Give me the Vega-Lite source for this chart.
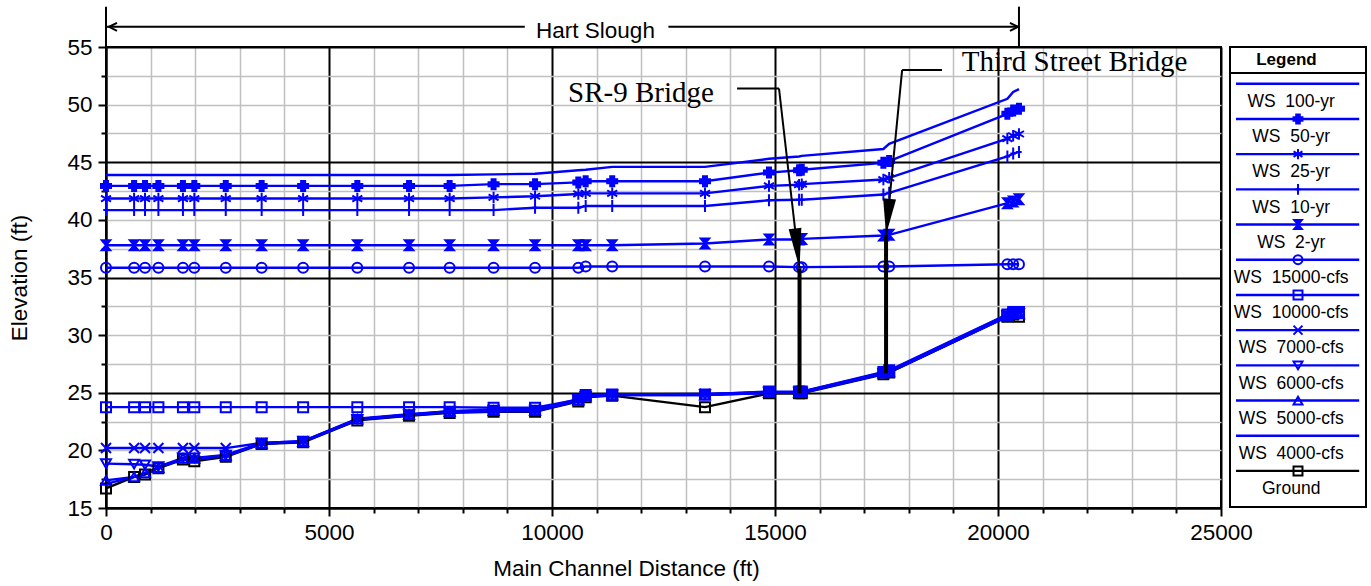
{
"$schema": "https://vega.github.io/schema/vega-lite/v6.json",
"padding": {"left": 7, "top": 4, "right": 2, "bottom": 2},
"background": "white",
"config": {
 "font": "Liberation Sans",
 "view": {"stroke": "#000000", "strokeWidth": 2},
 "axis": {"domainColor": "#000000", "domainWidth": 2, "tickColor": "#000000", "tickWidth": 2, "labelColor": "#000000", "titleColor": "#000000", "labelFont": "Liberation Sans", "titleFont": "Liberation Sans", "labelFontSize": 22.5, "titleFontSize": 22.5, "titleFontWeight": "normal", "labelOverlap": false}
},
"datasets": {
 "profiles": [
{"series":"Ground","dist":0,"elev":16.7},{"series":"Ground","dist":630,"elev":17.7},{"series":"Ground","dist":875,"elev":17.9},{"series":"Ground","dist":1175,"elev":18.45},{"series":"Ground","dist":1725,"elev":19.2},{"series":"Ground","dist":1980,"elev":19.05},{"series":"Ground","dist":2685,"elev":19.45},{"series":"Ground","dist":3490,"elev":20.55},{"series":"Ground","dist":4420,"elev":20.7},{"series":"Ground","dist":5635,"elev":22.6},{"series":"Ground","dist":6795,"elev":23.0},{"series":"Ground","dist":7705,"elev":23.25},{"series":"Ground","dist":8690,"elev":23.35},{"series":"Ground","dist":9620,"elev":23.35},{"series":"Ground","dist":10590,"elev":24.25},{"series":"Ground","dist":10755,"elev":24.6},{"series":"Ground","dist":11350,"elev":24.75},{"series":"Ground","dist":13430,"elev":23.75},{"series":"Ground","dist":14865,"elev":24.95},{"series":"Ground","dist":15540,"elev":24.95},{"series":"Ground","dist":15600,"elev":24.95},{"series":"Ground","dist":17430,"elev":26.6},{"series":"Ground","dist":17560,"elev":26.75},{"series":"Ground","dist":20210,"elev":31.6},{"series":"Ground","dist":20340,"elev":31.8},{"series":"Ground","dist":20470,"elev":31.6},
{"series":"WS\u00a0 4000-cfs","dist":0,"elev":17.1},{"series":"WS\u00a0 4000-cfs","dist":630,"elev":17.7},{"series":"WS\u00a0 4000-cfs","dist":875,"elev":18.0},{"series":"WS\u00a0 4000-cfs","dist":1175,"elev":18.5},{"series":"WS\u00a0 4000-cfs","dist":1725,"elev":19.25},{"series":"WS\u00a0 4000-cfs","dist":1980,"elev":19.25},{"series":"WS\u00a0 4000-cfs","dist":2685,"elev":19.5},{"series":"WS\u00a0 4000-cfs","dist":3490,"elev":20.6},{"series":"WS\u00a0 4000-cfs","dist":4420,"elev":20.75},{"series":"WS\u00a0 4000-cfs","dist":5635,"elev":22.65},{"series":"WS\u00a0 4000-cfs","dist":6795,"elev":23.05},{"series":"WS\u00a0 4000-cfs","dist":7705,"elev":23.3},{"series":"WS\u00a0 4000-cfs","dist":8690,"elev":23.4},{"series":"WS\u00a0 4000-cfs","dist":9620,"elev":23.4},{"series":"WS\u00a0 4000-cfs","dist":10590,"elev":24.3},{"series":"WS\u00a0 4000-cfs","dist":10755,"elev":24.65},{"series":"WS\u00a0 4000-cfs","dist":11350,"elev":24.8},{"series":"WS\u00a0 4000-cfs","dist":13430,"elev":24.8},{"series":"WS\u00a0 4000-cfs","dist":14865,"elev":25.0},{"series":"WS\u00a0 4000-cfs","dist":15540,"elev":25.0},{"series":"WS\u00a0 4000-cfs","dist":15600,"elev":25.0},{"series":"WS\u00a0 4000-cfs","dist":17430,"elev":26.65},{"series":"WS\u00a0 4000-cfs","dist":17560,"elev":26.8},{"series":"WS\u00a0 4000-cfs","dist":20210,"elev":31.6},{"series":"WS\u00a0 4000-cfs","dist":20340,"elev":31.8},{"series":"WS\u00a0 4000-cfs","dist":20470,"elev":31.8},
{"series":"WS\u00a0 5000-cfs","dist":0,"elev":17.4},{"series":"WS\u00a0 5000-cfs","dist":630,"elev":17.7},{"series":"WS\u00a0 5000-cfs","dist":875,"elev":18.05},{"series":"WS\u00a0 5000-cfs","dist":1175,"elev":18.5},{"series":"WS\u00a0 5000-cfs","dist":1725,"elev":19.3},{"series":"WS\u00a0 5000-cfs","dist":1980,"elev":19.3},{"series":"WS\u00a0 5000-cfs","dist":2685,"elev":19.55},{"series":"WS\u00a0 5000-cfs","dist":3490,"elev":20.6},{"series":"WS\u00a0 5000-cfs","dist":4420,"elev":20.75},{"series":"WS\u00a0 5000-cfs","dist":5635,"elev":22.7},{"series":"WS\u00a0 5000-cfs","dist":6795,"elev":23.1},{"series":"WS\u00a0 5000-cfs","dist":7705,"elev":23.35},{"series":"WS\u00a0 5000-cfs","dist":8690,"elev":23.45},{"series":"WS\u00a0 5000-cfs","dist":9620,"elev":23.45},{"series":"WS\u00a0 5000-cfs","dist":10590,"elev":24.35},{"series":"WS\u00a0 5000-cfs","dist":10755,"elev":24.7},{"series":"WS\u00a0 5000-cfs","dist":11350,"elev":24.8},{"series":"WS\u00a0 5000-cfs","dist":13430,"elev":24.8},{"series":"WS\u00a0 5000-cfs","dist":14865,"elev":25.0},{"series":"WS\u00a0 5000-cfs","dist":15540,"elev":25.0},{"series":"WS\u00a0 5000-cfs","dist":15600,"elev":25.0},{"series":"WS\u00a0 5000-cfs","dist":17430,"elev":26.7},{"series":"WS\u00a0 5000-cfs","dist":17560,"elev":26.8},{"series":"WS\u00a0 5000-cfs","dist":20210,"elev":31.65},{"series":"WS\u00a0 5000-cfs","dist":20340,"elev":31.85},{"series":"WS\u00a0 5000-cfs","dist":20470,"elev":31.85},
{"series":"WS\u00a0 6000-cfs","dist":0,"elev":18.85},{"series":"WS\u00a0 6000-cfs","dist":630,"elev":18.8},{"series":"WS\u00a0 6000-cfs","dist":875,"elev":18.75},{"series":"WS\u00a0 6000-cfs","dist":1175,"elev":18.6},{"series":"WS\u00a0 6000-cfs","dist":1725,"elev":19.35},{"series":"WS\u00a0 6000-cfs","dist":1980,"elev":19.35},{"series":"WS\u00a0 6000-cfs","dist":2685,"elev":19.6},{"series":"WS\u00a0 6000-cfs","dist":3490,"elev":20.65},{"series":"WS\u00a0 6000-cfs","dist":4420,"elev":20.8},{"series":"WS\u00a0 6000-cfs","dist":5635,"elev":22.7},{"series":"WS\u00a0 6000-cfs","dist":6795,"elev":23.1},{"series":"WS\u00a0 6000-cfs","dist":7705,"elev":23.4},{"series":"WS\u00a0 6000-cfs","dist":8690,"elev":23.5},{"series":"WS\u00a0 6000-cfs","dist":9620,"elev":23.5},{"series":"WS\u00a0 6000-cfs","dist":10590,"elev":24.4},{"series":"WS\u00a0 6000-cfs","dist":10755,"elev":24.7},{"series":"WS\u00a0 6000-cfs","dist":11350,"elev":24.85},{"series":"WS\u00a0 6000-cfs","dist":13430,"elev":24.85},{"series":"WS\u00a0 6000-cfs","dist":14865,"elev":25.05},{"series":"WS\u00a0 6000-cfs","dist":15540,"elev":25.05},{"series":"WS\u00a0 6000-cfs","dist":15600,"elev":25.05},{"series":"WS\u00a0 6000-cfs","dist":17430,"elev":26.7},{"series":"WS\u00a0 6000-cfs","dist":17560,"elev":26.85},{"series":"WS\u00a0 6000-cfs","dist":20210,"elev":31.7},{"series":"WS\u00a0 6000-cfs","dist":20340,"elev":31.9},{"series":"WS\u00a0 6000-cfs","dist":20470,"elev":31.9},
{"series":"WS\u00a0 7000-cfs","dist":0,"elev":20.2},{"series":"WS\u00a0 7000-cfs","dist":630,"elev":20.2},{"series":"WS\u00a0 7000-cfs","dist":875,"elev":20.2},{"series":"WS\u00a0 7000-cfs","dist":1175,"elev":20.2},{"series":"WS\u00a0 7000-cfs","dist":1725,"elev":20.2},{"series":"WS\u00a0 7000-cfs","dist":1980,"elev":20.2},{"series":"WS\u00a0 7000-cfs","dist":2685,"elev":20.2},{"series":"WS\u00a0 7000-cfs","dist":3490,"elev":20.65},{"series":"WS\u00a0 7000-cfs","dist":4420,"elev":20.8},{"series":"WS\u00a0 7000-cfs","dist":5635,"elev":22.75},{"series":"WS\u00a0 7000-cfs","dist":6795,"elev":23.15},{"series":"WS\u00a0 7000-cfs","dist":7705,"elev":23.4},{"series":"WS\u00a0 7000-cfs","dist":8690,"elev":23.5},{"series":"WS\u00a0 7000-cfs","dist":9620,"elev":23.55},{"series":"WS\u00a0 7000-cfs","dist":10590,"elev":24.45},{"series":"WS\u00a0 7000-cfs","dist":10755,"elev":24.75},{"series":"WS\u00a0 7000-cfs","dist":11350,"elev":24.85},{"series":"WS\u00a0 7000-cfs","dist":13430,"elev":24.9},{"series":"WS\u00a0 7000-cfs","dist":14865,"elev":25.05},{"series":"WS\u00a0 7000-cfs","dist":15540,"elev":25.05},{"series":"WS\u00a0 7000-cfs","dist":15600,"elev":25.1},{"series":"WS\u00a0 7000-cfs","dist":17430,"elev":26.75},{"series":"WS\u00a0 7000-cfs","dist":17560,"elev":26.9},{"series":"WS\u00a0 7000-cfs","dist":20210,"elev":31.75},{"series":"WS\u00a0 7000-cfs","dist":20340,"elev":31.95},{"series":"WS\u00a0 7000-cfs","dist":20470,"elev":31.95},
{"series":"WS\u00a0 10000-cfs","dist":0,"elev":23.75},{"series":"WS\u00a0 10000-cfs","dist":630,"elev":23.75},{"series":"WS\u00a0 10000-cfs","dist":875,"elev":23.75},{"series":"WS\u00a0 10000-cfs","dist":1175,"elev":23.75},{"series":"WS\u00a0 10000-cfs","dist":1725,"elev":23.75},{"series":"WS\u00a0 10000-cfs","dist":1980,"elev":23.75},{"series":"WS\u00a0 10000-cfs","dist":2685,"elev":23.75},{"series":"WS\u00a0 10000-cfs","dist":3490,"elev":23.75},{"series":"WS\u00a0 10000-cfs","dist":4420,"elev":23.75},{"series":"WS\u00a0 10000-cfs","dist":5635,"elev":23.75},{"series":"WS\u00a0 10000-cfs","dist":6795,"elev":23.75},{"series":"WS\u00a0 10000-cfs","dist":7705,"elev":23.75},{"series":"WS\u00a0 10000-cfs","dist":8690,"elev":23.7},{"series":"WS\u00a0 10000-cfs","dist":9620,"elev":23.7},{"series":"WS\u00a0 10000-cfs","dist":10590,"elev":24.4},{"series":"WS\u00a0 10000-cfs","dist":10755,"elev":24.8},{"series":"WS\u00a0 10000-cfs","dist":11350,"elev":24.85},{"series":"WS\u00a0 10000-cfs","dist":13430,"elev":24.85},{"series":"WS\u00a0 10000-cfs","dist":14865,"elev":25.1},{"series":"WS\u00a0 10000-cfs","dist":15540,"elev":25.1},{"series":"WS\u00a0 10000-cfs","dist":15600,"elev":25.1},{"series":"WS\u00a0 10000-cfs","dist":17430,"elev":26.8},{"series":"WS\u00a0 10000-cfs","dist":17560,"elev":26.95},{"series":"WS\u00a0 10000-cfs","dist":20210,"elev":31.8},{"series":"WS\u00a0 10000-cfs","dist":20340,"elev":32.0},{"series":"WS\u00a0 10000-cfs","dist":20470,"elev":32.0},
{"series":"WS\u00a0 15000-cfs","dist":0,"elev":35.85},{"series":"WS\u00a0 15000-cfs","dist":630,"elev":35.85},{"series":"WS\u00a0 15000-cfs","dist":875,"elev":35.85},{"series":"WS\u00a0 15000-cfs","dist":1175,"elev":35.85},{"series":"WS\u00a0 15000-cfs","dist":1725,"elev":35.85},{"series":"WS\u00a0 15000-cfs","dist":1980,"elev":35.85},{"series":"WS\u00a0 15000-cfs","dist":2685,"elev":35.85},{"series":"WS\u00a0 15000-cfs","dist":3490,"elev":35.85},{"series":"WS\u00a0 15000-cfs","dist":4420,"elev":35.85},{"series":"WS\u00a0 15000-cfs","dist":5635,"elev":35.85},{"series":"WS\u00a0 15000-cfs","dist":6795,"elev":35.85},{"series":"WS\u00a0 15000-cfs","dist":7705,"elev":35.85},{"series":"WS\u00a0 15000-cfs","dist":8690,"elev":35.85},{"series":"WS\u00a0 15000-cfs","dist":9620,"elev":35.85},{"series":"WS\u00a0 15000-cfs","dist":10590,"elev":35.85},{"series":"WS\u00a0 15000-cfs","dist":10755,"elev":35.95},{"series":"WS\u00a0 15000-cfs","dist":11350,"elev":35.95},{"series":"WS\u00a0 15000-cfs","dist":13430,"elev":35.95},{"series":"WS\u00a0 15000-cfs","dist":14865,"elev":35.95},{"series":"WS\u00a0 15000-cfs","dist":15540,"elev":35.9},{"series":"WS\u00a0 15000-cfs","dist":15600,"elev":35.9},{"series":"WS\u00a0 15000-cfs","dist":17430,"elev":35.95},{"series":"WS\u00a0 15000-cfs","dist":17560,"elev":35.95},{"series":"WS\u00a0 15000-cfs","dist":20210,"elev":36.15},{"series":"WS\u00a0 15000-cfs","dist":20340,"elev":36.15},{"series":"WS\u00a0 15000-cfs","dist":20470,"elev":36.15},
{"series":"WS\u00a0 2-yr","dist":0,"elev":37.8},{"series":"WS\u00a0 2-yr","dist":630,"elev":37.8},{"series":"WS\u00a0 2-yr","dist":875,"elev":37.8},{"series":"WS\u00a0 2-yr","dist":1175,"elev":37.8},{"series":"WS\u00a0 2-yr","dist":1725,"elev":37.8},{"series":"WS\u00a0 2-yr","dist":1980,"elev":37.8},{"series":"WS\u00a0 2-yr","dist":2685,"elev":37.8},{"series":"WS\u00a0 2-yr","dist":3490,"elev":37.8},{"series":"WS\u00a0 2-yr","dist":4420,"elev":37.8},{"series":"WS\u00a0 2-yr","dist":5635,"elev":37.8},{"series":"WS\u00a0 2-yr","dist":6795,"elev":37.8},{"series":"WS\u00a0 2-yr","dist":7705,"elev":37.8},{"series":"WS\u00a0 2-yr","dist":8690,"elev":37.8},{"series":"WS\u00a0 2-yr","dist":9620,"elev":37.8},{"series":"WS\u00a0 2-yr","dist":10590,"elev":37.8},{"series":"WS\u00a0 2-yr","dist":10755,"elev":37.8},{"series":"WS\u00a0 2-yr","dist":11350,"elev":37.8},{"series":"WS\u00a0 2-yr","dist":13430,"elev":37.95},{"series":"WS\u00a0 2-yr","dist":14865,"elev":38.3},{"series":"WS\u00a0 2-yr","dist":15540,"elev":38.3},{"series":"WS\u00a0 2-yr","dist":15600,"elev":38.35},{"series":"WS\u00a0 2-yr","dist":17430,"elev":38.65},{"series":"WS\u00a0 2-yr","dist":17560,"elev":38.7},{"series":"WS\u00a0 2-yr","dist":20210,"elev":41.45},{"series":"WS\u00a0 2-yr","dist":20340,"elev":41.6},{"series":"WS\u00a0 2-yr","dist":20470,"elev":41.8},
{"series":"WS\u00a0 10-yr","dist":0,"elev":40.85},{"series":"WS\u00a0 10-yr","dist":630,"elev":40.85},{"series":"WS\u00a0 10-yr","dist":875,"elev":40.85},{"series":"WS\u00a0 10-yr","dist":1175,"elev":40.85},{"series":"WS\u00a0 10-yr","dist":1725,"elev":40.85},{"series":"WS\u00a0 10-yr","dist":1980,"elev":40.85},{"series":"WS\u00a0 10-yr","dist":2685,"elev":40.85},{"series":"WS\u00a0 10-yr","dist":3490,"elev":40.85},{"series":"WS\u00a0 10-yr","dist":4420,"elev":40.85},{"series":"WS\u00a0 10-yr","dist":5635,"elev":40.85},{"series":"WS\u00a0 10-yr","dist":6795,"elev":40.85},{"series":"WS\u00a0 10-yr","dist":7705,"elev":40.85},{"series":"WS\u00a0 10-yr","dist":8690,"elev":40.85},{"series":"WS\u00a0 10-yr","dist":9620,"elev":41.05},{"series":"WS\u00a0 10-yr","dist":10590,"elev":41.05},{"series":"WS\u00a0 10-yr","dist":10755,"elev":41.2},{"series":"WS\u00a0 10-yr","dist":11350,"elev":41.2},{"series":"WS\u00a0 10-yr","dist":13430,"elev":41.2},{"series":"WS\u00a0 10-yr","dist":14865,"elev":41.7},{"series":"WS\u00a0 10-yr","dist":15540,"elev":41.75},{"series":"WS\u00a0 10-yr","dist":15600,"elev":41.75},{"series":"WS\u00a0 10-yr","dist":17430,"elev":42.2},{"series":"WS\u00a0 10-yr","dist":17560,"elev":42.35},{"series":"WS\u00a0 10-yr","dist":20210,"elev":45.5},{"series":"WS\u00a0 10-yr","dist":20340,"elev":45.75},{"series":"WS\u00a0 10-yr","dist":20470,"elev":45.9},
{"series":"WS\u00a0 25-yr","dist":0,"elev":41.85},{"series":"WS\u00a0 25-yr","dist":630,"elev":41.85},{"series":"WS\u00a0 25-yr","dist":875,"elev":41.85},{"series":"WS\u00a0 25-yr","dist":1175,"elev":41.85},{"series":"WS\u00a0 25-yr","dist":1725,"elev":41.85},{"series":"WS\u00a0 25-yr","dist":1980,"elev":41.85},{"series":"WS\u00a0 25-yr","dist":2685,"elev":41.85},{"series":"WS\u00a0 25-yr","dist":3490,"elev":41.85},{"series":"WS\u00a0 25-yr","dist":4420,"elev":41.85},{"series":"WS\u00a0 25-yr","dist":5635,"elev":41.85},{"series":"WS\u00a0 25-yr","dist":6795,"elev":41.85},{"series":"WS\u00a0 25-yr","dist":7705,"elev":41.85},{"series":"WS\u00a0 25-yr","dist":8690,"elev":41.95},{"series":"WS\u00a0 25-yr","dist":9620,"elev":42.05},{"series":"WS\u00a0 25-yr","dist":10590,"elev":42.25},{"series":"WS\u00a0 25-yr","dist":10755,"elev":42.3},{"series":"WS\u00a0 25-yr","dist":11350,"elev":42.3},{"series":"WS\u00a0 25-yr","dist":13430,"elev":42.3},{"series":"WS\u00a0 25-yr","dist":14865,"elev":42.95},{"series":"WS\u00a0 25-yr","dist":15540,"elev":43.05},{"series":"WS\u00a0 25-yr","dist":15600,"elev":43.1},{"series":"WS\u00a0 25-yr","dist":17430,"elev":43.5},{"series":"WS\u00a0 25-yr","dist":17560,"elev":43.65},{"series":"WS\u00a0 25-yr","dist":20210,"elev":47.05},{"series":"WS\u00a0 25-yr","dist":20340,"elev":47.3},{"series":"WS\u00a0 25-yr","dist":20470,"elev":47.45},
{"series":"WS\u00a0 50-yr","dist":0,"elev":42.95},{"series":"WS\u00a0 50-yr","dist":630,"elev":42.95},{"series":"WS\u00a0 50-yr","dist":875,"elev":42.95},{"series":"WS\u00a0 50-yr","dist":1175,"elev":42.95},{"series":"WS\u00a0 50-yr","dist":1725,"elev":42.95},{"series":"WS\u00a0 50-yr","dist":1980,"elev":42.95},{"series":"WS\u00a0 50-yr","dist":2685,"elev":42.95},{"series":"WS\u00a0 50-yr","dist":3490,"elev":42.95},{"series":"WS\u00a0 50-yr","dist":4420,"elev":42.95},{"series":"WS\u00a0 50-yr","dist":5635,"elev":42.95},{"series":"WS\u00a0 50-yr","dist":6795,"elev":42.95},{"series":"WS\u00a0 50-yr","dist":7705,"elev":42.95},{"series":"WS\u00a0 50-yr","dist":8690,"elev":43.1},{"series":"WS\u00a0 50-yr","dist":9620,"elev":43.1},{"series":"WS\u00a0 50-yr","dist":10590,"elev":43.25},{"series":"WS\u00a0 50-yr","dist":10755,"elev":43.35},{"series":"WS\u00a0 50-yr","dist":11350,"elev":43.35},{"series":"WS\u00a0 50-yr","dist":13430,"elev":43.35},{"series":"WS\u00a0 50-yr","dist":14865,"elev":44.1},{"series":"WS\u00a0 50-yr","dist":15540,"elev":44.3},{"series":"WS\u00a0 50-yr","dist":15600,"elev":44.35},{"series":"WS\u00a0 50-yr","dist":17430,"elev":44.95},{"series":"WS\u00a0 50-yr","dist":17560,"elev":45.1},{"series":"WS\u00a0 50-yr","dist":20210,"elev":49.2},{"series":"WS\u00a0 50-yr","dist":20340,"elev":49.5},{"series":"WS\u00a0 50-yr","dist":20470,"elev":49.65},
{"series":"WS\u00a0 100-yr","dist":0,"elev":43.9},{"series":"WS\u00a0 100-yr","dist":630,"elev":43.9},{"series":"WS\u00a0 100-yr","dist":875,"elev":43.9},{"series":"WS\u00a0 100-yr","dist":1175,"elev":43.9},{"series":"WS\u00a0 100-yr","dist":1725,"elev":43.9},{"series":"WS\u00a0 100-yr","dist":1980,"elev":43.9},{"series":"WS\u00a0 100-yr","dist":2685,"elev":43.9},{"series":"WS\u00a0 100-yr","dist":3490,"elev":43.9},{"series":"WS\u00a0 100-yr","dist":4420,"elev":43.9},{"series":"WS\u00a0 100-yr","dist":5635,"elev":43.9},{"series":"WS\u00a0 100-yr","dist":6795,"elev":43.9},{"series":"WS\u00a0 100-yr","dist":7705,"elev":43.9},{"series":"WS\u00a0 100-yr","dist":8690,"elev":43.95},{"series":"WS\u00a0 100-yr","dist":9620,"elev":44.0},{"series":"WS\u00a0 100-yr","dist":10590,"elev":44.3},{"series":"WS\u00a0 100-yr","dist":10755,"elev":44.35},{"series":"WS\u00a0 100-yr","dist":11350,"elev":44.6},{"series":"WS\u00a0 100-yr","dist":13430,"elev":44.6},{"series":"WS\u00a0 100-yr","dist":14865,"elev":45.3},{"series":"WS\u00a0 100-yr","dist":15540,"elev":45.5},{"series":"WS\u00a0 100-yr","dist":15600,"elev":45.55},{"series":"WS\u00a0 100-yr","dist":17430,"elev":46.15},{"series":"WS\u00a0 100-yr","dist":17560,"elev":46.6},{"series":"WS\u00a0 100-yr","dist":20210,"elev":50.5},{"series":"WS\u00a0 100-yr","dist":20340,"elev":51.1},{"series":"WS\u00a0 100-yr","dist":20470,"elev":51.35}
 ],
 "legend": [
  {"series":"WS\u00a0 100-yr"},{"series":"WS\u00a0 50-yr"},{"series":"WS\u00a0 25-yr"},{"series":"WS\u00a0 10-yr"},{"series":"WS\u00a0 2-yr"},{"series":"WS\u00a0 15000-cfs"},{"series":"WS\u00a0 10000-cfs"},{"series":"WS\u00a0 7000-cfs"},{"series":"WS\u00a0 6000-cfs"},{"series":"WS\u00a0 5000-cfs"},{"series":"WS\u00a0 4000-cfs"},{"series":"Ground"}
 ],
 "bridges": [
  {"bridge":"SR-9 Bridge","dist":15550,"low":24.95,"high":35.8,"leader_start":14150,"leader_end":15090,"leader_elev":51.4,"label_dist":10360,"label_elev":50.2},
  {"bridge":"Third Street Bridge","dist":17490,"low":26.7,"high":38.7,"leader_start":18745,"leader_end":17850,"leader_elev":53.0,"label_dist":19190,"label_elev":52.93}
 ],
 "reach": [
  {"reach":"Hart Slough","start":0,"end":20470,"gap_start":9390,"gap_end":12610,"elev":56.75,"label_dist":10975,"label_elev":55.74,"base":55,"top":58.5}
 ]
},
"spacing": 9,
"bounds": "flush",
"hconcat": [
 {
  "width": 1115,
  "height": 461,
  "encoding": {
   "x": {"type": "quantitative", "scale": {"domain": [0, 25000], "nice": false, "zero": false},
    "axis": {"title": "Main Channel Distance (ft)", "values": [0,1000,2000,3000,4000,5000,6000,7000,8000,9000,10000,11000,12000,13000,14000,15000,16000,17000,18000,19000,20000,21000,22000,23000,24000,25000],
     "format": "d", "labelExpr": "datum.value % 5000 === 0 ? datum.label : ''", "labelFlush": false, "labelPadding": 5, "titlePadding": 14, "titleX": 520,
     "tickSize": {"condition": {"test": "datum.value % 5000 === 0", "value": 8}, "value": 5},
     "gridColor": {"condition": {"test": "datum.value % 5000 === 0", "value": "#000000"}, "value": "#c0c0c0"},
     "gridWidth": {"condition": {"test": "datum.value % 5000 === 0", "value": 2}, "value": 1.5}}},
   "y": {"type": "quantitative", "scale": {"domain": [15, 55], "nice": false, "zero": false},
    "axis": {"title": "Elevation (ft)", "values": [15,17.5,20,22.5,25,27.5,30,32.5,35,37.5,40,42.5,45,47.5,50,52.5,55],
     "labelExpr": "datum.value % 5 === 0 ? datum.label : ''", "labelPadding": 6, "titlePadding": 35,
     "tickSize": {"condition": {"test": "datum.value % 5 === 0", "value": 8}, "value": 5},
     "gridColor": {"condition": {"test": "(datum.value - 15) % 10 === 0", "value": "#000000"}, "value": "#c0c0c0"},
     "gridWidth": {"condition": {"test": "(datum.value - 15) % 10 === 0", "value": 2}, "value": 1.5}}}
  },
  "layer": [
   {
    "data": {"name": "profiles"},
    "mark": {"type": "line", "strokeWidth": 2.4},
    "encoding": {
     "x": {"field": "dist"},
     "y": {"field": "elev"},
     "stroke": {"field": "series", "type": "nominal", "scale": {"domain": ["WS\u00a0 100-yr","WS\u00a0 50-yr","WS\u00a0 25-yr","WS\u00a0 10-yr","WS\u00a0 2-yr","WS\u00a0 15000-cfs","WS\u00a0 10000-cfs","WS\u00a0 7000-cfs","WS\u00a0 6000-cfs","WS\u00a0 5000-cfs","WS\u00a0 4000-cfs","Ground"], "range": ["#0000ff","#0000ff","#0000ff","#0000ff","#0000ff","#0000ff","#0000ff","#0000ff","#0000ff","#0000ff","#0000ff","#000000"]}, "legend": null}
    }
   },
   {
    "data": {"name": "profiles"},
    "transform": [{"filter": {"not": {"field": "series", "oneOf": ["WS\u00a0 100-yr", "WS\u00a0 4000-cfs"]}}}],
    "mark": {"type": "point", "size": 100, "strokeWidth": 2, "opacity": 1},
    "encoding": {
     "x": {"field": "dist"},
     "y": {"field": "elev"},
     "stroke": {"field": "series", "type": "nominal", "scale": {"domain": ["WS\u00a0 100-yr","WS\u00a0 50-yr","WS\u00a0 25-yr","WS\u00a0 10-yr","WS\u00a0 2-yr","WS\u00a0 15000-cfs","WS\u00a0 10000-cfs","WS\u00a0 7000-cfs","WS\u00a0 6000-cfs","WS\u00a0 5000-cfs","WS\u00a0 4000-cfs","Ground"], "range": ["#0000ff","#0000ff","#0000ff","#0000ff","#0000ff","#0000ff","#0000ff","#0000ff","#0000ff","#0000ff","#0000ff","#000000"]}, "legend": null},
     "fill": {"field": "series", "type": "nominal", "scale": {"domain": ["WS\u00a0 100-yr","WS\u00a0 50-yr","WS\u00a0 25-yr","WS\u00a0 10-yr","WS\u00a0 2-yr","WS\u00a0 15000-cfs","WS\u00a0 10000-cfs","WS\u00a0 7000-cfs","WS\u00a0 6000-cfs","WS\u00a0 5000-cfs","WS\u00a0 4000-cfs","Ground"], "range": ["transparent","#0000ff","transparent","transparent","#0000ff","transparent","transparent","transparent","transparent","transparent","transparent","transparent"]}, "legend": null},
     "shape": {"field": "series", "type": "nominal", "scale": {"domain": ["WS\u00a0 100-yr","WS\u00a0 50-yr","WS\u00a0 25-yr","WS\u00a0 10-yr","WS\u00a0 2-yr","WS\u00a0 15000-cfs","WS\u00a0 10000-cfs","WS\u00a0 7000-cfs","WS\u00a0 6000-cfs","WS\u00a0 5000-cfs","WS\u00a0 4000-cfs","Ground"], "range": ["M0,0","cross","M-1,-0.6L1,0.6M-1,0.6L1,-0.6M0,-1.15L0,1.15","M0,-1.2L0,1.2M-0.55,0L0.55,0","M-0.85,-1L0.85,-1L-0.85,1L0.85,1Z","circle","square","M-1,-1L1,1M-1,1L1,-1","triangle-down","triangle-up","M0,0","square"]}, "legend": null}
    }
   },
   {
    "data": {"name": "bridges"},
    "mark": {"type": "rule", "strokeWidth": 4, "color": "#000000"},
    "encoding": {"x": {"field": "dist"}, "y": {"field": "low"}, "y2": {"field": "high"}}
   },
   {
    "data": {"name": "bridges"},
    "mark": {"type": "rule", "strokeWidth": 2, "color": "#000000"},
    "encoding": {"x": {"field": "leader_start"}, "x2": {"field": "leader_end"}, "y": {"field": "leader_elev"}}
   },
   {
    "data": {"name": "bridges"},
    "mark": {"type": "rule", "strokeWidth": 2, "color": "#000000"},
    "encoding": {"x": {"field": "leader_end"}, "x2": {"field": "dist"}, "y": {"field": "leader_elev"}, "y2": {"field": "high"}}
   },
   {
    "data": {"name": "bridges"},
    "transform": [{"filter": {"field": "bridge", "equal": "SR-9 Bridge"}}],
    "mark": {"type": "point", "shape": "M-0.16,-1L0.16,-1L0,0Z", "size": 6400, "filled": true, "color": "#000000", "opacity": 1, "angle": -6.5},
    "encoding": {"x": {"field": "dist"}, "y": {"field": "high"}}
   },
   {
    "data": {"name": "bridges"},
    "transform": [{"filter": {"field": "bridge", "equal": "Third Street Bridge"}}],
    "mark": {"type": "point", "shape": "M-0.18,-1L0.18,-1L0,0Z", "size": 5200, "filled": true, "color": "#000000", "opacity": 1, "angle": 5.6},
    "encoding": {"x": {"field": "dist"}, "y": {"field": "high"}}
   },
   {
    "data": {"name": "bridges"},
    "mark": {"type": "text", "font": "Liberation Serif", "fontSize": 29, "align": "left", "baseline": "alphabetic", "color": "#000000"},
    "encoding": {"x": {"field": "label_dist"}, "y": {"field": "label_elev"}, "text": {"field": "bridge"}}
   },
   {
    "data": {"name": "reach"},
    "mark": {"type": "rule", "strokeWidth": 2, "color": "#000000"},
    "encoding": {"x": {"field": "start"}, "x2": {"field": "gap_start"}, "y": {"field": "elev"}}
   },
   {
    "data": {"name": "reach"},
    "mark": {"type": "rule", "strokeWidth": 2, "color": "#000000"},
    "encoding": {"x": {"field": "gap_end"}, "x2": {"field": "end"}, "y": {"field": "elev"}}
   },
   {
    "data": {"name": "reach"},
    "mark": {"type": "rule", "strokeWidth": 2, "color": "#000000"},
    "encoding": {"x": {"field": "end"}, "y": {"field": "base"}, "y2": {"field": "top"}}
   },
   {
    "data": {"name": "reach"},
    "mark": {"type": "rule", "strokeWidth": 2, "color": "#000000"},
    "encoding": {"x": {"field": "start"}, "y": {"field": "base"}, "y2": {"field": "top"}}
   },
   {
    "data": {"name": "reach"},
    "mark": {"type": "point", "shape": "M2,-1L0,0L2,1", "size": 64, "filled": false, "color": "#000000", "strokeWidth": 2, "opacity": 1, "xOffset": 3},
    "encoding": {"x": {"field": "start"}, "y": {"field": "elev"}}
   },
   {
    "data": {"name": "reach"},
    "mark": {"type": "point", "shape": "M2,-1L0,0L2,1", "size": 64, "filled": false, "color": "#000000", "strokeWidth": 2, "opacity": 1, "angle": 180, "xOffset": -1},
    "encoding": {"x": {"field": "end"}, "y": {"field": "elev"}}
   },
   {
    "data": {"name": "reach"},
    "mark": {"type": "text", "fontSize": 22.5, "align": "center", "baseline": "alphabetic", "color": "#000000"},
    "encoding": {"x": {"field": "label_dist"}, "y": {"field": "label_elev"}, "text": {"field": "reach"}}
   }
  ]
 },
 {
  "spacing": 0,
  "bounds": "flush",
  "vconcat": [
   {
    "width": 136,
    "height": 26,
    "data": {"values": [{"title": "Legend"}]},
    "mark": {"type": "text", "fontWeight": "bold", "fontSize": 17, "align": "center", "baseline": "middle", "color": "#000000"},
    "encoding": {
     "x": {"datum": 0.415, "type": "quantitative", "scale": {"domain": [0, 1]}, "axis": null},
     "y": {"datum": 0.5, "type": "quantitative", "scale": {"domain": [0, 1]}, "axis": null},
     "text": {"field": "title"}
    }
   },
   {
    "width": 136,
    "height": 434,
    "data": {"name": "legend"},
    "layer": [
     {
      "mark": {"type": "rule", "strokeWidth": 2.4},
      "encoding": {
       "x": {"datum": 0.044, "type": "quantitative", "scale": {"domain": [0, 1]}, "axis": null},
       "x2": {"datum": 0.95},
       "y": {"field": "series", "type": "nominal", "bandPosition": 0.14, "scale": {"type": "band", "domain": ["WS\u00a0 100-yr","WS\u00a0 50-yr","WS\u00a0 25-yr","WS\u00a0 10-yr","WS\u00a0 2-yr","WS\u00a0 15000-cfs","WS\u00a0 10000-cfs","WS\u00a0 7000-cfs","WS\u00a0 6000-cfs","WS\u00a0 5000-cfs","WS\u00a0 4000-cfs","Ground"], "paddingInner": 0, "paddingOuter": 0.165}, "axis": null},
       "stroke": {"field": "series", "type": "nominal", "scale": {"domain": ["WS\u00a0 100-yr","WS\u00a0 50-yr","WS\u00a0 25-yr","WS\u00a0 10-yr","WS\u00a0 2-yr","WS\u00a0 15000-cfs","WS\u00a0 10000-cfs","WS\u00a0 7000-cfs","WS\u00a0 6000-cfs","WS\u00a0 5000-cfs","WS\u00a0 4000-cfs","Ground"], "range": ["#0000ff","#0000ff","#0000ff","#0000ff","#0000ff","#0000ff","#0000ff","#0000ff","#0000ff","#0000ff","#0000ff","#000000"]}, "legend": null}
      }
     },
     {
      "transform": [{"filter": {"not": {"field": "series", "oneOf": ["WS\u00a0 100-yr", "WS\u00a0 4000-cfs"]}}}],
      "mark": {"type": "point", "size": 80, "strokeWidth": 2, "opacity": 1},
      "encoding": {
       "x": {"datum": 0.5, "type": "quantitative", "scale": {"domain": [0, 1]}, "axis": null},
       "y": {"field": "series", "type": "nominal", "bandPosition": 0.14, "scale": {"type": "band", "domain": ["WS\u00a0 100-yr","WS\u00a0 50-yr","WS\u00a0 25-yr","WS\u00a0 10-yr","WS\u00a0 2-yr","WS\u00a0 15000-cfs","WS\u00a0 10000-cfs","WS\u00a0 7000-cfs","WS\u00a0 6000-cfs","WS\u00a0 5000-cfs","WS\u00a0 4000-cfs","Ground"], "paddingInner": 0, "paddingOuter": 0.165}, "axis": null},
       "stroke": {"field": "series", "type": "nominal", "scale": {"domain": ["WS\u00a0 100-yr","WS\u00a0 50-yr","WS\u00a0 25-yr","WS\u00a0 10-yr","WS\u00a0 2-yr","WS\u00a0 15000-cfs","WS\u00a0 10000-cfs","WS\u00a0 7000-cfs","WS\u00a0 6000-cfs","WS\u00a0 5000-cfs","WS\u00a0 4000-cfs","Ground"], "range": ["#0000ff","#0000ff","#0000ff","#0000ff","#0000ff","#0000ff","#0000ff","#0000ff","#0000ff","#0000ff","#0000ff","#000000"]}, "legend": null},
       "fill": {"field": "series", "type": "nominal", "scale": {"domain": ["WS\u00a0 100-yr","WS\u00a0 50-yr","WS\u00a0 25-yr","WS\u00a0 10-yr","WS\u00a0 2-yr","WS\u00a0 15000-cfs","WS\u00a0 10000-cfs","WS\u00a0 7000-cfs","WS\u00a0 6000-cfs","WS\u00a0 5000-cfs","WS\u00a0 4000-cfs","Ground"], "range": ["transparent","#0000ff","transparent","transparent","#0000ff","transparent","transparent","transparent","transparent","transparent","transparent","transparent"]}, "legend": null},
       "shape": {"field": "series", "type": "nominal", "scale": {"domain": ["WS\u00a0 100-yr","WS\u00a0 50-yr","WS\u00a0 25-yr","WS\u00a0 10-yr","WS\u00a0 2-yr","WS\u00a0 15000-cfs","WS\u00a0 10000-cfs","WS\u00a0 7000-cfs","WS\u00a0 6000-cfs","WS\u00a0 5000-cfs","WS\u00a0 4000-cfs","Ground"], "range": ["M0,0","cross","M-1,-0.6L1,0.6M-1,0.6L1,-0.6M0,-1.15L0,1.15","M0,-1.2L0,1.2M-0.55,0L0.55,0","M-0.85,-1L0.85,-1L-0.85,1L0.85,1Z","circle","square","M-1,-1L1,1M-1,1L1,-1","triangle-down","triangle-up","M0,0","square"]}, "legend": null}
      }
     },
     {
      "mark": {"type": "text", "fontSize": 17.5, "align": "center", "baseline": "middle", "color": "#000000"},
      "encoding": {
       "x": {"datum": 0.45, "type": "quantitative", "scale": {"domain": [0, 1]}, "axis": null},
       "y": {"field": "series", "type": "nominal", "bandPosition": 0.66, "scale": {"type": "band", "domain": ["WS\u00a0 100-yr","WS\u00a0 50-yr","WS\u00a0 25-yr","WS\u00a0 10-yr","WS\u00a0 2-yr","WS\u00a0 15000-cfs","WS\u00a0 10000-cfs","WS\u00a0 7000-cfs","WS\u00a0 6000-cfs","WS\u00a0 5000-cfs","WS\u00a0 4000-cfs","Ground"], "paddingInner": 0, "paddingOuter": 0.165}, "axis": null},
       "text": {"field": "series"}
      }
     }
    ]
   }
  ]
 }
]
}
